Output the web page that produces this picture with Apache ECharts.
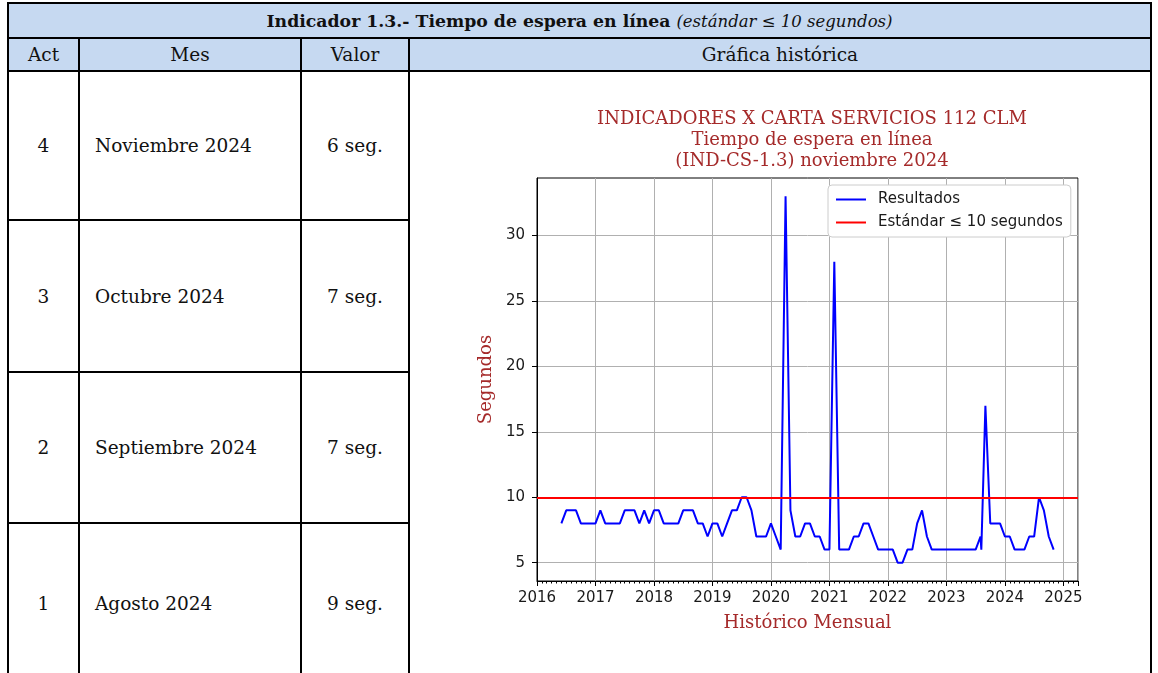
<!DOCTYPE html>
<html>
<head>
<meta charset="utf-8">
<script src="https://cdn.jsdelivr.net/npm/echarts@6/dist/echarts.min.js"></script>
<style>
body { margin: 0; background: #fff; width: 1158px; height: 673px; overflow: hidden; position: relative; }
table { position: absolute; left: 7px; top: 2px; border-collapse: collapse; table-layout: fixed;
        font-family: "DejaVu Serif", "Liberation Serif", serif; color: #111; }
td { border: 2px solid #000; font-size: 18.5px; padding: 0; }
tr.head td { background: #c6d9f1; text-align: center; }
.act, .val { text-align: center; }
.mes { padding-left: 15px; }
b { font-size: 17.3px; }
i { font-size: 16.5px; }
#chart { position: absolute; left: 410px; top: 72px; width: 738px; height: 601px; }
</style>
</head>
<body>
<table>
  <colgroup><col style="width:71px"><col style="width:222px"><col style="width:108px"><col style="width:742px"></colgroup>
  <tr class="head" style="height:35px"><td colspan="4"><b>Indicador 1.3.- Tiempo de espera en línea</b> <i>(estándar ≤ 10 segundos)</i></td></tr>
  <tr class="head" style="height:33px"><td>Act</td><td>Mes</td><td>Valor</td><td>Gráfica histórica</td></tr>
  <tr style="height:149px"><td class="act">4</td><td class="mes">Noviembre 2024</td><td class="val">6 seg.</td><td rowspan="4"></td></tr>
  <tr style="height:152px"><td class="act">3</td><td class="mes">Octubre 2024</td><td class="val">7 seg.</td></tr>
  <tr style="height:151px"><td class="act">2</td><td class="mes">Septiembre 2024</td><td class="val">7 seg.</td></tr>
  <tr style="height:160px"><td class="act">1</td><td class="mes">Agosto 2024</td><td class="val">9 seg.</td></tr>
</table>
<div id="chart"></div>
<script>
// serie mensual (segundos de espera)
var months = [
    '2016-06', '2016-07', '2016-08', '2016-09', '2016-10', '2016-11', '2016-12',
    '2017-01', '2017-02', '2017-03', '2017-04', '2017-05', '2017-06', '2017-07', '2017-08', '2017-09', '2017-10', '2017-11', '2017-12',
    '2018-01', '2018-02', '2018-03', '2018-04', '2018-05', '2018-06', '2018-07', '2018-08', '2018-09', '2018-10', '2018-11', '2018-12',
    '2019-01', '2019-02', '2019-03', '2019-04', '2019-05', '2019-06', '2019-07', '2019-08', '2019-09', '2019-10', '2019-11', '2019-12',
    '2020-01', '2020-02', '2020-03', '2020-04', '2020-05', '2020-06', '2020-07', '2020-08', '2020-09', '2020-10', '2020-11', '2020-12',
    '2021-01', '2021-02', '2021-03', '2021-04', '2021-05', '2021-06', '2021-07', '2021-08', '2021-09', '2021-10', '2021-11', '2021-12',
    '2022-01', '2022-02', '2022-03', '2022-04', '2022-05', '2022-06', '2022-07', '2022-08', '2022-09', '2022-10', '2022-11', '2022-12',
    '2023-01', '2023-02', '2023-03', '2023-04', '2023-05', '2023-06', '2023-07', '2023-08', '2023-08-06', '2023-09', '2023-10', '2023-11', '2023-12',
    '2024-01', '2024-02', '2024-03', '2024-04', '2024-05', '2024-06', '2024-07', '2024-08', '2024-09', '2024-10', '2024-11'
];
var seconds = [
    8, 9, 9, 9, 8, 8, 8,
    8, 9, 8, 8, 8, 8, 9, 9, 9, 8, 9, 8,
    9, 9, 8, 8, 8, 8, 9, 9, 9, 8, 8, 7,
    8, 8, 7, 8, 9, 9, 10, 10, 9, 7, 7, 7,
    8, 7, 6, 33, 9, 7, 7, 8, 8, 7, 7, 6,
    6, 28, 6, 6, 6, 7, 7, 8, 8, 7, 6, 6,
    6, 6, 5, 5, 6, 6, 8, 9, 7, 6, 6, 6,
    6, 6, 6, 6, 6, 6, 6, 7, 6, 17, 8, 8, 8,
    7, 7, 6, 6, 6, 7, 7, 10, 9, 7, 6
];
var standard = 10;
var yTicks = [5, 10, 15, 20, 25, 30];
var titleLines = ['INDICADORES X CARTA SERVICIOS 112 CLM', 'Tiempo de espera en línea', '(IND-CS-1.3) noviembre 2024'];

// fecha -> año decimal
function toYear(s) {
    var p = s.split('-');
    var y = +p[0] + (p[1] - 1) / 12;
    if (p[2]) y += (p[2] - 1) / 365;
    return y;
}

var points = months.map(function (m, i) { return [toYear(m), seconds[i]]; });

var red = '#a52a2a';
var myChart = echarts.init(document.getElementById('chart'));

option = {
    animation: false,
    title: {
        text: titleLines.join('\n'),
        left: 397,
        top: 32,
        textAlign: 'center',
        textStyle: { fontFamily: 'DejaVu Serif', fontSize: 18, fontWeight: 'normal', color: red, lineHeight: 21 }
    },
    legend: {
        orient: 'vertical',
        left: 418,
        top: 113,
        padding: [7, 8, 7, 8],
        itemGap: 8,
        itemWidth: 30,
        itemHeight: 2,
        icon: 'rect',
        borderColor: '#cccccc',
        borderWidth: 1,
        borderRadius: 4,
        backgroundColor: '#fff',
        textStyle: { fontFamily: 'DejaVu Sans', fontSize: 15, color: '#1a1a1a', padding: [0, 0, 0, 7] },
        data: ['Resultados', 'Estándar ≤ 10 segundos']
    },
    grid: {
        left: 127, top: 106, right: 70, bottom: 92,
        show: true, borderColor: '#000', borderWidth: 1
    },
    xAxis: {
        type: 'value',
        min: 2016,
        max: 2025.25,
        interval: 1,
        name: 'Histórico Mensual',
        nameLocation: 'middle',
        nameGap: 33,
        nameTextStyle: { fontFamily: 'DejaVu Serif', fontSize: 18, color: red },
        axisLine: { show: true, lineStyle: { color: '#000' } },
        axisTick: { show: true, length: 5, lineStyle: { color: '#000' } },
        minorTick: { show: true, splitNumber: 12, length: 2.5, lineStyle: { color: '#000' } },
        axisLabel: {
            margin: 10,
            fontFamily: 'DejaVu Sans', fontSize: 15, color: '#1a1a1a',
            formatter: function (v) { return v % 1 === 0 ? String(v) : ''; }
        },
        splitLine: { show: true, lineStyle: { color: '#b0b0b0' } }
    },
    yAxis: {
        type: 'value',
        min: 3.6,
        max: 34.4,
        name: 'Segundos',
        nameLocation: 'middle',
        nameGap: 38,
        nameTextStyle: { fontFamily: 'DejaVu Serif', fontSize: 18, color: red },
        axisLine: { show: true, lineStyle: { color: '#000' } },
        axisTick: { show: true, length: 5, customValues: yTicks, lineStyle: { color: '#000' } },
        axisLabel: { margin: 12, customValues: yTicks, fontFamily: 'DejaVu Sans', fontSize: 15, color: '#1a1a1a' },
        splitLine: { show: true, lineStyle: { color: '#b0b0b0' } }
    },
    series: [
        {
            name: 'Resultados',
            type: 'line',
            data: points,
            symbol: 'none',
            color: '#0000ff',
            lineStyle: { color: '#0000ff', width: 2 }
        },
        {
            name: 'Estándar ≤ 10 segundos',
            type: 'line',
            data: [],
            symbol: 'none',
            color: '#ff0000',
            lineStyle: { color: '#ff0000', width: 2 },
            markLine: {
                silent: true,
                symbol: ['none', 'none'],
                label: { show: false },
                lineStyle: { color: '#ff0000', width: 2, type: 'solid' },
                data: [{ yAxis: standard }]
            }
        }
    ]
};
myChart.setOption(option);
</script>
</body>
</html>
